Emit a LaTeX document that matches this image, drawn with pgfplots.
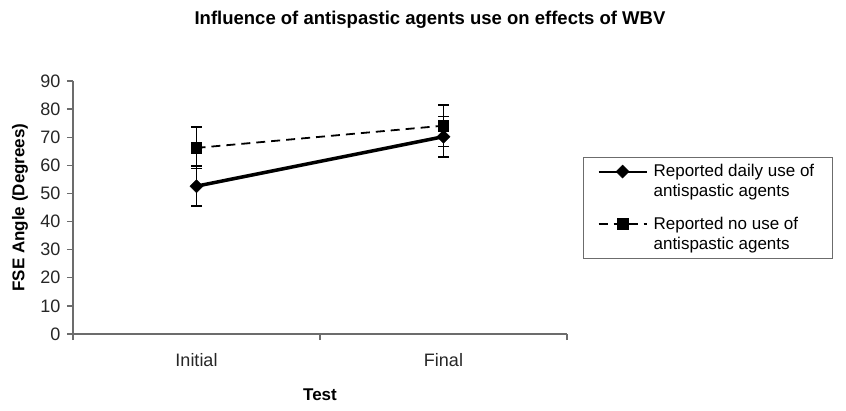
\documentclass[border=0pt]{standalone}
\usepackage{fontspec}
\setmainfont{Liberation Sans}
\usepackage{pgfplots}
\pgfplotsset{compat=1.18}
\begin{document}
\begin{tikzpicture}
\useasboundingbox (-73pt,-76pt) rectangle (773pt,334pt);
\begin{axis}[
 at={(0pt,0pt)}, anchor=south west,
 scale only axis, width=494pt, height=253pt,
 xmin=0, xmax=2, ymin=0, ymax=90,
 axis x line=bottom, axis y line=left,
 axis line style={-, draw=gray!85!black, line width=1.3pt},
 ytick={0,10,...,90},
 xtick={0.5,1.5}, xticklabels={Initial,Final},
 minor xtick={0,1,2},
 major x tick style={draw=none},
 tick style={draw=gray!85!black, line width=1.3pt},
 tick align=outside,
 major tick length=6pt, minor tick length=6pt,
 /pgf/number format/assume math mode=true,
 tick label style={font=\fontsize{18}{20}\selectfont, text=black!85},
 xticklabel style={anchor=center, yshift=-20pt},
 yticklabel style={xshift=-3pt},
 xlabel={\bfseries Test},
 ylabel={\bfseries FSE Angle (Degrees)},
 label style={font=\fontsize{17}{19}\selectfont},
 xlabel style={at={(axis description cs:0.5,0)}, anchor=center, yshift=-61pt},
 ylabel style={at={(axis description cs:0,0.5)}, anchor=center, yshift=53pt},
 legend style={at={(1.0324,0.6996)}, anchor=north west, draw=gray!85!black, line width=1.2pt,
   font=\fontsize{17}{20}\selectfont, cells={anchor=west, align=left},
   inner xsep=2pt, inner ysep=5pt, row sep=15pt},
 legend image code/.code={\path (0pt,0pt) (64pt,0pt);
   \draw[mark repeat=2,mark phase=2] plot coordinates {(12pt,10pt) (36pt,10pt) (60pt,10pt)};},
 clip=false,
]
\addplot[black, line width=3.5pt, mark=square*, mark size=4.6pt, mark options={solid, rotate=45, line width=0.5pt},
  legend image post style={line width=2pt},
  error bars/.cd, y dir=both, y explicit,
  error bar style={line width=1.8pt, black},
  error mark options={rotate=90, line width=1.8pt, mark size=5.5pt, black}]
  coordinates {(0.5,52.6) +- (0,7.1) (1.5,70.2) +- (0,7.2)};
\addlegendentry{Reported daily use of\rule{14pt}{0pt}\\antispastic agents}
\addplot[black, line width=1.8pt, dash pattern=on 9pt off 6pt, mark=square*, mark size=5pt, mark options={solid},
  legend image post style={line width=2pt},
  error bars/.cd, y dir=both, y explicit,
  error bar style={line width=1.8pt, black, solid},
  error mark options={rotate=90, line width=1.8pt, mark size=5.5pt, black, solid}]
  coordinates {(0.5,66.2) +- (0,7.3) (1.5,74.1) +- (0,7.4)};
\addlegendentry{Reported no use of\\antispastic agents}
\end{axis}
\node[font=\fontsize{18.5}{21}\selectfont\bfseries] at (357pt,314pt) {Influence of antispastic agents use on effects of WBV};
\end{tikzpicture}
\end{document}
